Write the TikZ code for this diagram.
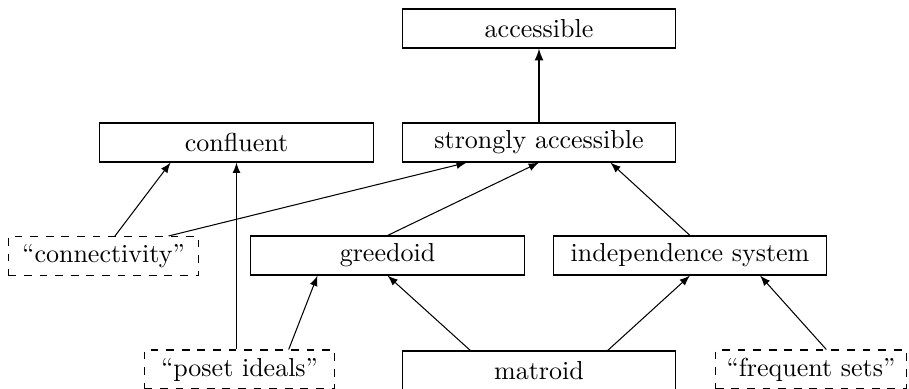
\documentclass[tikz,border=0pt]{standalone}
\usetikzlibrary{calc,arrows}
\begin{document}
\begin{tikzpicture}[x=0.3846pt,y=-0.3846pt,
  solidbox/.style={draw,rectangle,minimum width=105.2pt,minimum height=15pt,inner sep=2pt},
  dashbox/.style={draw,dashed,rectangle,minimum width=73.2pt,minimum height=15pt,inner sep=2pt},
  edge/.style={-latex}]
\useasboundingbox (0,0) rectangle (909,388);
\node[solidbox] (acc) at (539,28.5) {accessible};
\node[solidbox] (sacc) at (539,142.5) {strongly accessible};
\node[solidbox] (conf) at (236.5,142.5) {confluent};
\node[dashbox] (conn) at (103.5,256) {``connectivity''};
\node[solidbox] (greed) at (387.5,255.5) {greedoid};
\node[solidbox] (indep) at (690,255.5) {independence system};
\node[dashbox] (poset) at (239.5,369.5) {``poset ideals''};
\node[solidbox] (mat) at (539,370.5) {matroid};
\node[dashbox] (freq) at (811,369.5) {``frequent sets''};

\draw[edge,semithick] (sacc.north) -- (acc.south);
\draw[edge] ($(conn.north west)!0.56!(conn.north east)$) -- ($(conf.south west)!0.26!(conf.south east)$);
\draw[edge] ($(conn.north west)!0.84!(conn.north east)$) -- ($(sacc.south west)!0.237!(sacc.south east)$);
\draw[edge] (conf.south |- poset.north) -- (conf.south);
\draw[edge] ($(poset.north west)!0.757!(poset.north east)$) -- ($(greed.south west)!0.245!(greed.south east)$);
\draw[edge] (greed.north) -- (sacc.south);
\draw[edge] (indep.north) -- ($(sacc.south west)!0.76!(sacc.south east)$);
\draw[edge] ($(mat.north west)!0.25!(mat.north east)$) -- (greed.south);
\draw[edge] ($(mat.north west)!0.75!(mat.north east)$) -- (indep.south);
\draw[edge] ($(freq.north west)!0.58!(freq.north east)$) -- ($(indep.south west)!0.755!(indep.south east)$);
\end{tikzpicture}
\end{document}
